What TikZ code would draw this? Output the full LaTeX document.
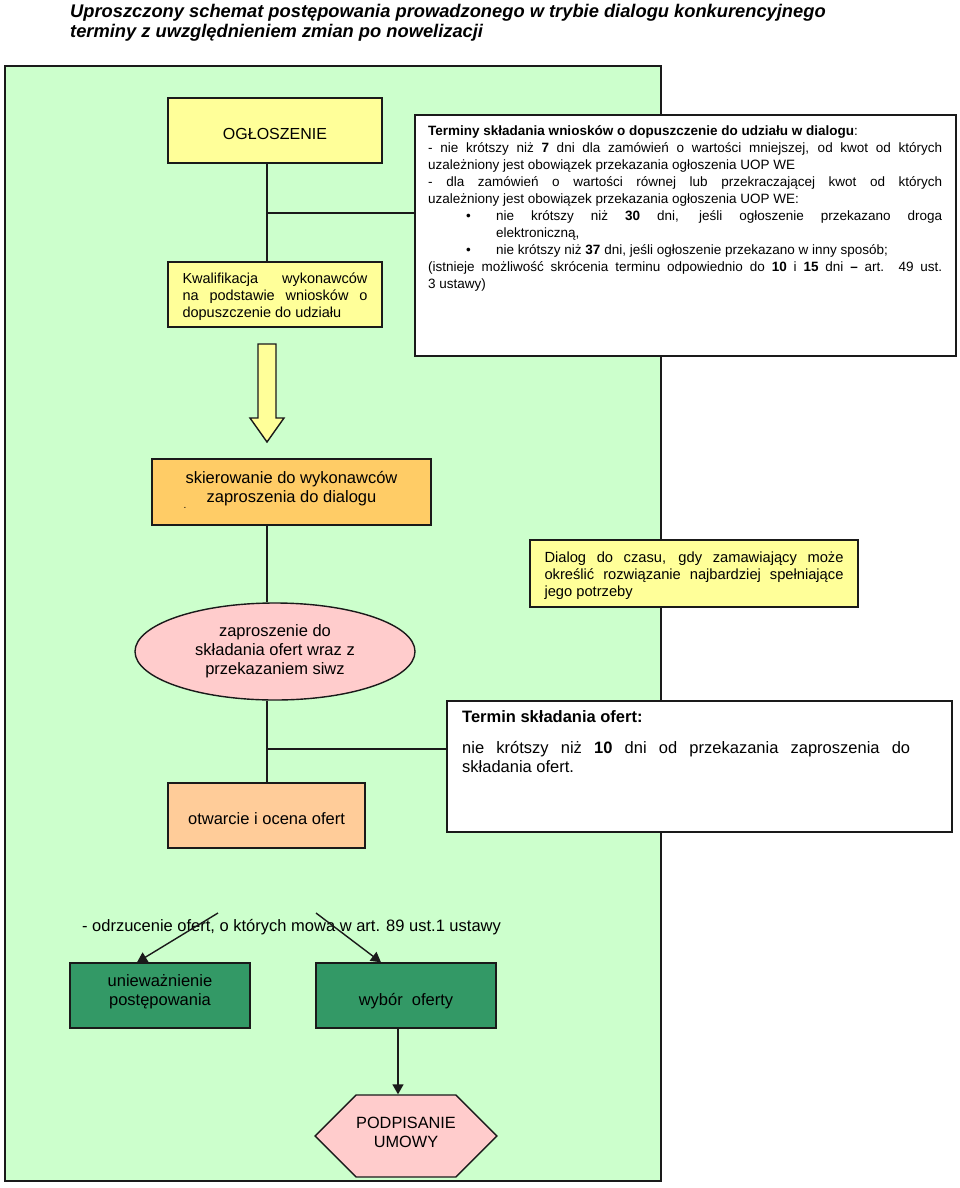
\documentclass[tikz,border=0pt]{standalone}
\usepackage{fontspec}
\setmainfont{Liberation Sans}
\usetikzlibrary{arrows.meta,shapes.geometric,shapes.symbols,calc}
\definecolor{bggreen}{HTML}{CCFFCC}
\definecolor{boxyellow}{HTML}{FFFF99}
\definecolor{boxorange}{HTML}{FFCC66}
\definecolor{boxpeach}{HTML}{FFCC99}
\definecolor{boxpink}{HTML}{FFCCCC}
\definecolor{boxdark}{HTML}{339966}
\definecolor{edge}{HTML}{1A1A1A}
\hyphenpenalty=10000
\exhyphenpenalty=10000
\begin{document}
\begin{tikzpicture}[x=1pt,y=-1pt,
  box/.style={draw=edge, line width=1.4pt, inner sep=0pt, align=center},
  conn/.style={draw=edge, line width=1.3pt},
  arr/.style={draw=edge, line width=1.4pt, -{Triangle[length=10pt,width=11pt]}},
  big16/.style={font=\fontsize{16.5pt}{19pt}\selectfont},
]
\useasboundingbox (0,0) rectangle (960,1188);
% title
\node[anchor=north west, inner sep=0pt, align=left, font=\bfseries\itshape\fontsize{18.3pt}{20pt}\selectfont] (title) at (70,4)
 {Uproszczony schemat postępowania prowadzonego w trybie dialogu konkurencyjnego\\terminy z uwzględnieniem zmian po nowelizacji};
% green background
\draw[fill=bggreen, draw=edge, line width=2pt] (5,66) rectangle (661,1181);
\coordinate (spine) at (267,0);
\coordinate (spineb) at (398,0);
% top boxes
\node[box, fill=boxyellow, minimum width=214pt, minimum height=65pt, font=\fontsize{16pt}{19pt}\selectfont, text height=17.5pt] (ogl) at (275,130.5) {OGŁOSZENIE};
\node[box, fill=boxyellow, minimum width=214pt, minimum height=65pt, text width=185pt, align=justify, font=\fontsize{14.5pt}{17pt}\selectfont, text height=14.6pt] (kw) at (275,294.5)
 {Kwalifikacja wykonawców\linebreak na podstawie wniosków o\linebreak dopuszczenie do udziału};
\node[box, fill=white, minimum width=541pt, minimum height=241pt] (big) at (685.5,235.5) {};
\node[anchor=north west, inner sep=0pt, text width=514pt, align=justify, font=\fontsize{13.5pt}{17pt}\selectfont] (bigtxt) at (428,125)
 {\textbf{Terminy składania wniosków o dopuszczenie do udziału w dialogu}:\par
 - nie krótszy niż \textbf{7} dni dla zamówień o wartości mniejszej, od kwot od których\linebreak uzależniony jest obowiązek przekazania ogłoszenia UOP WE\par
 - dla zamówień o wartości równej lub przekraczającej kwot od których\linebreak uzależniony jest obowiązek przekazania ogłoszenia UOP WE:\par
 \leftskip=68pt\noindent\llap{\makebox[30pt][l]{\textbullet}}nie krótszy niż \textbf{30} dni, jeśli ogłoszenie przekazano droga\linebreak elektroniczną,\par
 \noindent\llap{\makebox[30pt][l]{\textbullet}}nie krótszy niż \textbf{37} dni, jeśli ogłoszenie przekazano w inny sposób;\par
 \leftskip=0pt\noindent(istnieje możliwość skrócenia terminu odpowiednio do \textbf{10} i \textbf{15} dni \textbf{–} art. 49 ust.\linebreak 3 ustawy)\par};
\coordinate (j1) at (267,213);
\draw[conn] (ogl.south -| spine) -- (kw.north -| spine);
\draw[conn] (j1) -- (j1 -| big.west);
% hollow arrow
\draw[fill=boxyellow, draw=edge, line width=1.4pt] (258,344) -- (276,344) -- (276,418) -- (284,418) -- (267,442) -- (250,418) -- (258,418) -- cycle;
% middle
\node[box, fill=boxorange, minimum width=279pt, minimum height=66pt, font=\fontsize{16.5pt}{18.5pt}\selectfont, text depth=10pt] (skier) at (291.5,492)
 {skierowanie do wykonawców\\zaproszenia do dialogu};
\node[inner sep=0pt, font=\fontsize{10pt}{12pt}\selectfont] (dot) at (185,508) {.};
\node[box, fill=boxyellow, minimum width=328pt, minimum height=67pt, text width=299pt, align=justify, font=\fontsize{14.7pt}{17pt}\selectfont, text height=14.7pt] (dialog) at (694,573.5)
 {Dialog do czasu, gdy zamawiający może\linebreak określić rozwiązanie najbardziej spełniające\linebreak jego potrzeby};
\node[box, ellipse, fill=boxpink, minimum width=280pt, minimum height=97pt, big16] (ell) at (275,651.5)
 {zaproszenie do\\składania ofert wraz z\\przekazaniem siwz};
\draw[conn] (skier.south -| spine) -- (ell.north -| spine);
\node[box, fill=white, minimum width=505pt, minimum height=131pt] (termin) at (699.5,766.5) {};
\node[anchor=north west, inner sep=0pt, text width=448pt, align=justify, big16] (termintxt) at (462,710)
 {\textbf{Termin składania ofert:}\par\vspace{12pt}
 nie krótszy niż \textbf{10} dni od przekazania zaproszenia do\linebreak składania ofert.};
\node[box, fill=boxpeach, minimum width=197pt, minimum height=65pt, big16, text height=18pt] (otw) at (266.5,815.5) {otwarcie i ocena ofert};
\coordinate (j2) at (267,749);
\draw[conn] (ell.south -| spine) -- (otw.north -| spine);
\draw[conn] (j2) -- (j2 -| termin.west);
% bottom
\node[inner sep=0pt, big16] (odrz) at (291.5,927) {- odrzucenie ofert, o których mowa w art. 89 ust.1 ustawy};
\node[box, fill=boxdark, minimum width=180pt, minimum height=65pt, big16, text depth=10pt] (un) at (160,995.5) {unieważnienie\\postępowania};
\node[box, fill=boxdark, minimum width=180pt, minimum height=65pt, big16, text height=24pt] (wyb) at (406,995.5) {wybór~ oferty};
\coordinate (a1) at (218,913);
\coordinate (a2) at (316,913);
\draw[arr] (a1) -- (un.north -| 137,0);
\draw[arr] (a2) -- (wyb.north -| 381,0);
\node[box, signal, signal to=west and east, signal pointer angle=90, fill=boxpink, minimum width=180pt, minimum height=82pt, font=\fontsize{16.3pt}{19pt}\selectfont, text depth=8pt] (hex) at (406,1136) {PODPISANIE\\UMOWY};
\draw[arr] (wyb.south -| spineb) -- (hex.north -| spineb);
\end{tikzpicture}
\end{document}
